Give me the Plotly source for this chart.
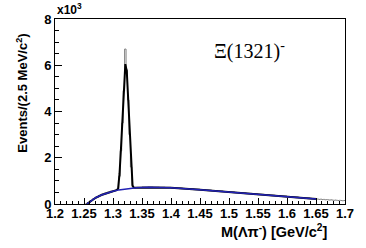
import numpy as np
import plotly.graph_objects as go

# ---- data (counts in units of 10^3 events per 2.5 MeV/c^2) ----
hist_left_vals = [0.0, 0.05, 0.15, 0.23, 0.30, 0.37, 0.43, 0.48, 0.52, 0.56]  # 1.25-1.30, 5 MeV bins
hist_peak_vals = [0.57, 0.59, 0.62, 0.66, 1.2, 2.3, 3.5, 4.9, 6.7, 5.8, 4.5, 3.0, 1.6, 0.8, 0.71, 0.70]  # 1.30-1.34, 2.5 MeV
hist_mid_vals = [0.72, 0.74, 0.75, 0.74, 0.73, 0.72, 0.70, 0.69, 0.67, 0.66,
                 0.64, 0.62, 0.60, 0.58, 0.56, 0.54, 0.52, 0.50, 0.48, 0.46,
                 0.44, 0.42, 0.40, 0.38, 0.36, 0.34, 0.32, 0.30, 0.28, 0.26, 0.24]  # 1.34-1.65, 10 MeV
hist_tail_vals = [0.22, 0.21, 0.20, 0.21, 0.19, 0.20, 0.18, 0.19, 0.18, 0.17,
                  0.18, 0.17, 0.16, 0.17, 0.16, 0.15, 0.16, 0.15, 0.14, 0.15]  # 1.65-1.70, 2.5 MeV

bkg_mass = [1.255, 1.26, 1.265, 1.27, 1.28, 1.29, 1.30, 1.31, 1.32, 1.33, 1.34, 1.36,
            1.38, 1.40, 1.45, 1.50, 1.55, 1.60, 1.65]
bkg_vals = [0.0, 0.10, 0.19, 0.27, 0.39, 0.48, 0.55, 0.61, 0.65, 0.68, 0.70, 0.72,
            0.72, 0.70, 0.62, 0.52, 0.42, 0.32, 0.22]

fit_mass = [1.255, 1.26, 1.265, 1.27, 1.28, 1.29, 1.30, 1.30375, 1.30625, 1.30875, 1.31125,
            1.31375, 1.31625, 1.31875, 1.32125, 1.32375, 1.32625, 1.32875, 1.33125,
            1.33375, 1.33625, 1.34, 1.36, 1.38, 1.40, 1.45, 1.50, 1.55, 1.60, 1.65]
fit_vals = [0.0, 0.10, 0.19, 0.27, 0.39, 0.48, 0.55, 0.58, 0.60, 0.66, 1.3,
            2.4, 3.6, 4.8, 6.05, 5.75, 4.4, 3.0, 1.7,
            0.78, 0.70, 0.70, 0.72, 0.72, 0.70, 0.62, 0.52, 0.42, 0.32, 0.22]

x_ticks = [1.2, 1.25, 1.3, 1.35, 1.4, 1.45, 1.5, 1.55, 1.6, 1.65, 1.7]
y_ticks = [0, 2, 4, 6, 8]

# ---- build histogram step outline ----
edges = np.concatenate([
    np.linspace(1.25, 1.30, len(hist_left_vals) + 1)[:-1],
    np.linspace(1.30, 1.34, len(hist_peak_vals) + 1)[:-1],
    np.linspace(1.34, 1.65, len(hist_mid_vals) + 1)[:-1],
    np.linspace(1.65, 1.70, len(hist_tail_vals) + 1),
])
counts = hist_left_vals + hist_peak_vals + hist_mid_vals + hist_tail_vals
hx = list(edges)
hy = counts + [counts[-1]]

fig = go.Figure()
fig.add_trace(go.Scatter(x=hx, y=hy, mode="lines", line=dict(shape="hv", color="#808080", width=1),
                         hoverinfo="skip", showlegend=False))
fig.add_trace(go.Scatter(x=fit_mass, y=fit_vals, mode="lines", line=dict(color="black", width=2),
                         showlegend=False))
fig.add_trace(go.Scatter(x=bkg_mass, y=bkg_vals, mode="lines", line=dict(color="#2222b4", width=1.5),
                         showlegend=False))

SANS = "Liberation Sans, Arial, sans-serif"
axis_font = dict(family=SANS, size=13, color="black", weight="bold")

fig.update_layout(
    width=366, height=248,
    margin=dict(l=55, r=18, t=18, b=44),
    paper_bgcolor="white", plot_bgcolor="white",
    font=dict(family=SANS, color="black"),
    xaxis=dict(range=[1.2, 1.7], tickvals=x_ticks, ticktext=[f"<b>{v:g}</b>" for v in x_ticks],
               ticks="inside", ticklen=6, tickcolor="black", tickwidth=1,
               minor=dict(dtick=0.01, tick0=1.2, ticks="inside", ticklen=3, tickcolor="black"),
               showline=True, linecolor="black", linewidth=1, mirror=True,
               showgrid=False, zeroline=False, tickfont=axis_font,
               ticklabelstandoff=-3, ticklabeloverflow="allow"),
    yaxis=dict(range=[0, 8], tickvals=y_ticks, ticktext=[f"<b>{v}</b>" for v in y_ticks],
               ticks="inside", ticklen=7, tickcolor="black", tickwidth=1,
               minor=dict(dtick=0.5, tick0=0, ticks="inside", ticklen=4, tickcolor="black"),
               showline=True, linecolor="black", linewidth=1, mirror=True,
               showgrid=False, zeroline=False, tickfont=axis_font),
    annotations=[
        dict(text="<b>M(Λπ<sup>-</sup>) [GeV/c<sup>2</sup>]</b>", xref="paper", yref="paper",
             x=0.949, y=-0.145, xanchor="right", yanchor="middle", showarrow=False,
             font=dict(size=14.5, family=SANS)),
        dict(text="<b>Events/(2.5 MeV/c<sup>2</sup>)</b>", xref="paper", yref="paper",
             x=-0.115, y=0.6, xanchor="center", yanchor="middle", textangle=-90, showarrow=False,
             font=dict(size=13, family=SANS)),
        dict(text="<b>x10<sup>3</sup></b>", xref="paper", yref="paper",
             x=0.0, y=1.0, xanchor="left", yanchor="bottom", showarrow=False,
             font=dict(size=12, family=SANS)),
        dict(text="Ξ(1321)<sup>-</sup>", xref="paper", yref="paper",
             x=0.54, y=0.83, xanchor="left", yanchor="middle", showarrow=False,
             font=dict(size=20, family="Liberation Serif, Times New Roman, serif")),
    ],
)

fig.write_html(
    "out.html",
    config={"displayModeBar": False},
    post_script="document.body.style.margin='0';document.body.style.overflow='hidden';",
)
